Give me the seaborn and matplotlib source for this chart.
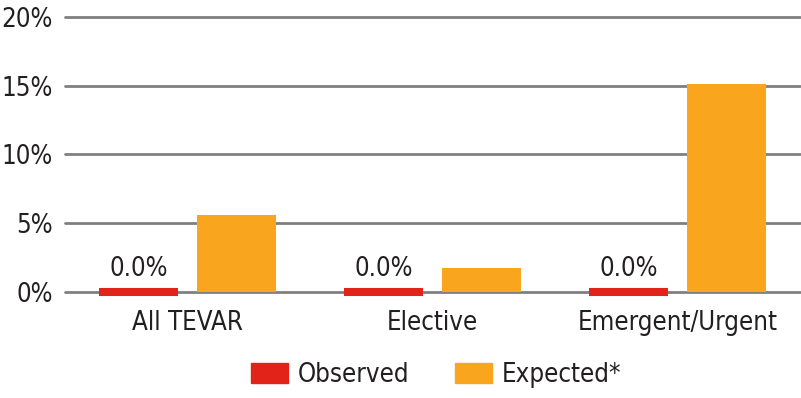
import pandas as pd
import seaborn as sns
from matplotlib import pyplot as plt

categories = ['All TEVAR', 'Elective', 'Emergent/Urgent']
observed = [0.0, 0.0, 0.0]
expected = [5.6, 1.75, 15.1]
series = ['Observed', 'Expected*']
colors = ['#E2231A', '#F9A51D']
yticks = [0, 5, 10, 15, 20]

df = pd.DataFrame({
    'Category': categories * 2,
    'Series': [series[0]] * 3 + [series[1]] * 3,
    'Value': observed + expected,
})

sns.set_style('white')
plt.rcParams['font.family'] = ['DejaVu Sans']
plt.rcParams['font.stretch'] = 'condensed'
text_color = '#231F20'

fig = plt.figure(figsize=(8.01, 3.98), dpi=100)
ax = fig.add_axes([65 / 801, 106 / 398, 735 / 801, 275 / 398])

sns.barplot(data=df, x='Category', y='Value', hue='Series', palette=colors,
            width=0.8, gap=0.2, saturation=1, legend=False, ax=ax, zorder=3)

for p in ax.containers[1]:
    p.set_linewidth(0)

# the observed bars are zero: draw them as a thick red stroke on the baseline
for p in ax.containers[0]:
    p.set_edgecolor(colors[0])
    p.set_linewidth(5.8)
    p.set_joinstyle('miter')
    p.set_clip_on(False)
ax.bar_label(ax.containers[0], labels=[f'{v:.1f}%' for v in observed],
             padding=7, fontsize=18.5, color=text_color)

ax.set_ylim(0, 20)
ax.set_xlim(-0.5, 2.5)
ax.set_yticks(yticks)
ax.set_yticklabels([f'{t}%' for t in yticks])
ax.grid(axis='y', color='#808080', linewidth=2, zorder=0)
for gl in ax.get_ygridlines():
    gl.set_clip_on(False)
ax.set_axisbelow(True)
for s in ax.spines.values():
    s.set_visible(False)
ax.tick_params(axis='both', length=0, labelsize=18.5, colors=text_color)
ax.tick_params(axis='x', pad=13)
ax.tick_params(axis='y', pad=9)
ax.set_xlabel('')
ax.set_ylabel('')

handles = [plt.Rectangle((0, 0), 1, 1, color=c) for c in colors]
fig.legend(handles, series, loc='center', bbox_to_anchor=(436 / 801, 1 - 375 / 398),
           ncol=2, frameon=False, fontsize=18.5, handlelength=1.45, handleheight=0.85,
           handletextpad=0.35, columnspacing=1.8, labelcolor=text_color)

fig.savefig('out.png', dpi=100)
